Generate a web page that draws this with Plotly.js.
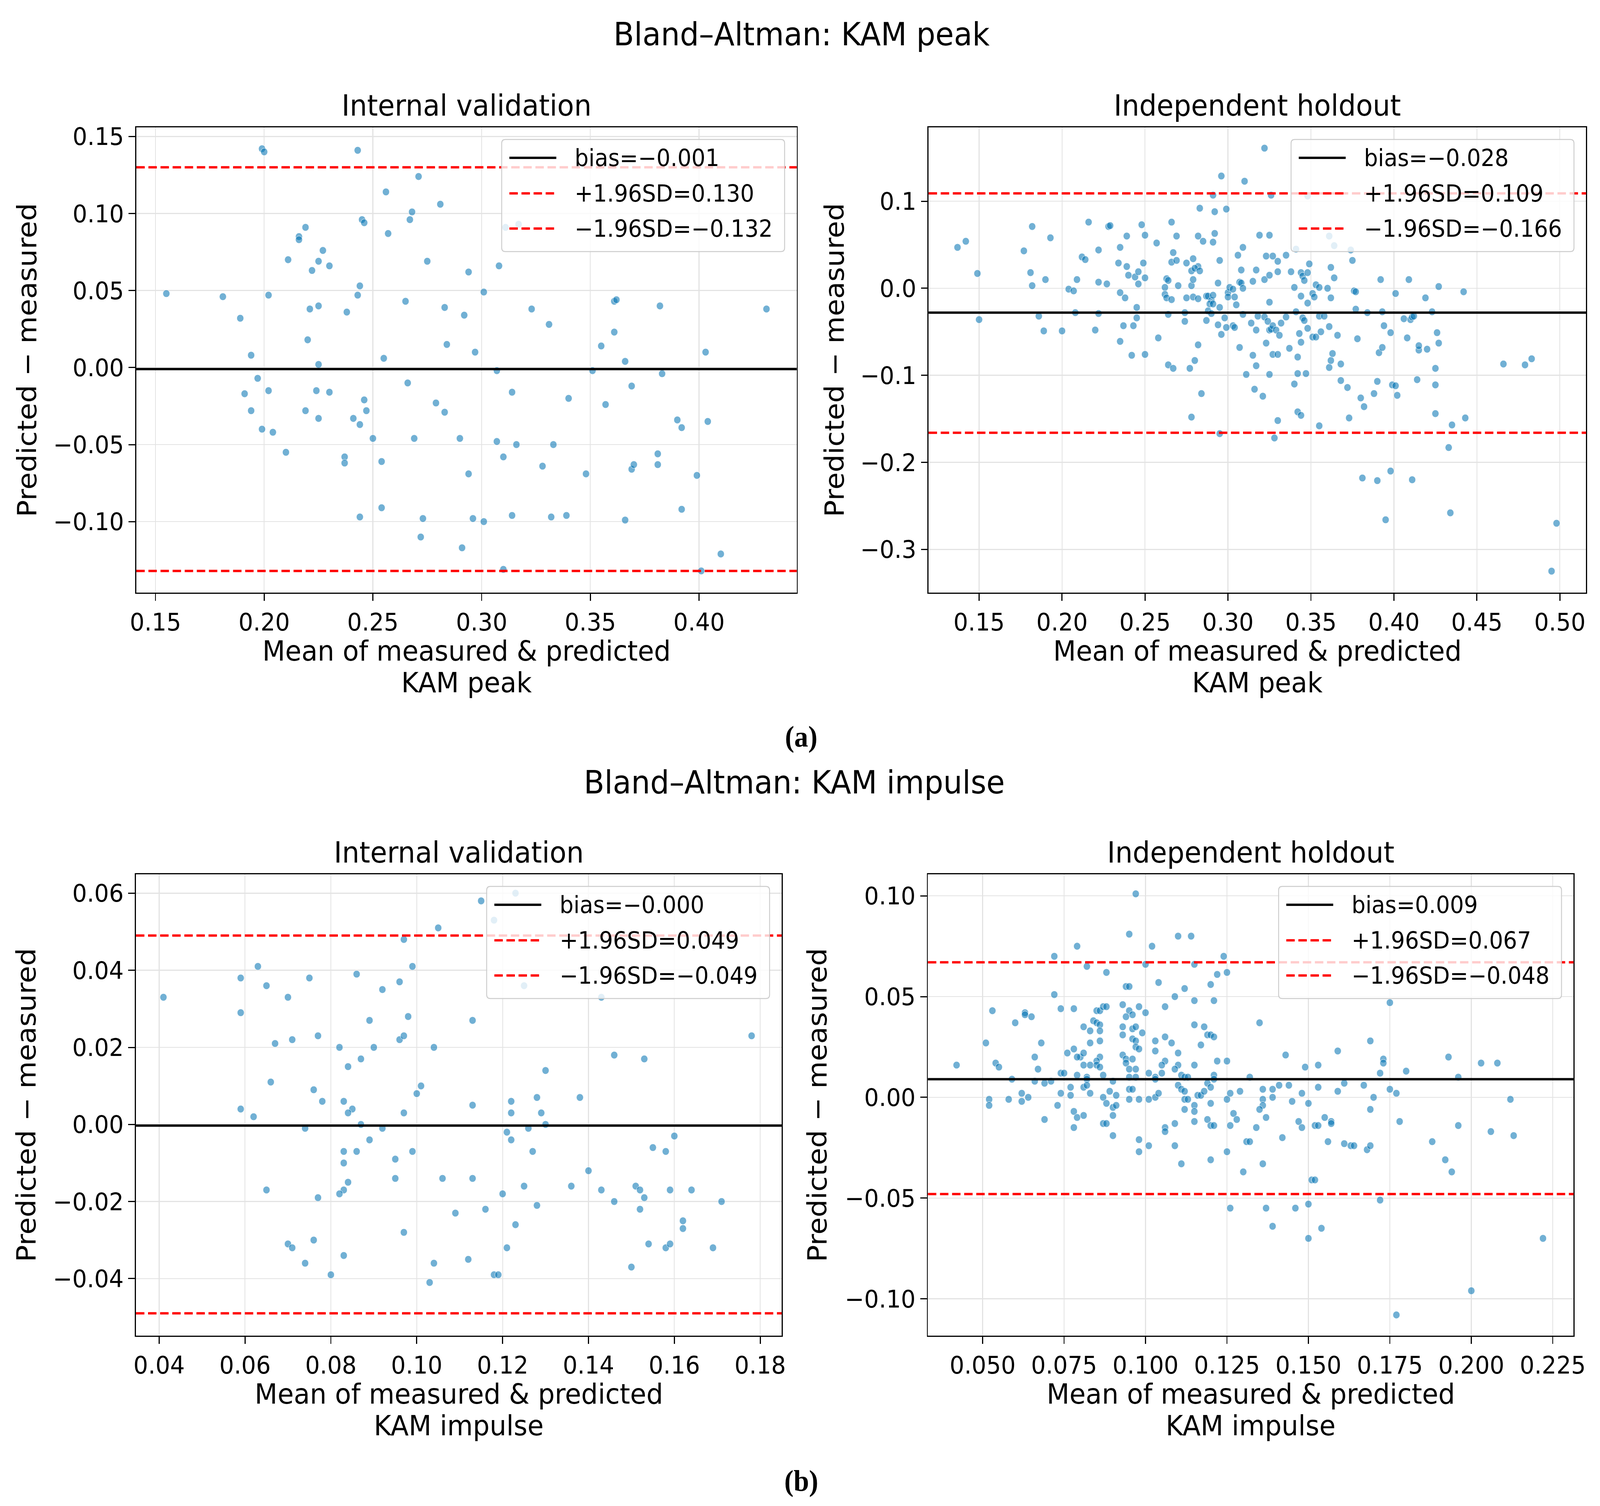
<!DOCTYPE html>
<html>
<head>
<meta charset="utf-8">
<script src="https://cdn.plot.ly/plotly-3.0.1.min.js"></script>
<style>
html, body { margin: 0; padding: 0; overflow: hidden; background: #fff; }
#wrap { width: 4366px; height: 3855px; overflow: hidden; }
#chart { width: 4366px; height: 3855px; transform-origin: 0 0; }
</style>
</head>
<body>
<div id="wrap"><div id="chart"></div></div>
<script>
// ---- values ----
// (a) KAM peak, internal validation
var peakIntMean = [0.199,0.200,0.243,0.271,0.256,0.281,0.268,0.267,0.245,0.246,
  0.219,0.216,0.216,0.257,0.311,0.317,0.227,0.211,0.225,0.230,
  0.222,0.275,0.294,0.308,0.244,0.243,0.155,0.181,0.202,0.301,
  0.265,0.361,0.362,0.382,0.431,0.221,0.225,0.283,0.238,0.292,
  0.323,0.189,0.331,0.361,0.220,0.284,0.355,0.194,0.255,0.297,
  0.403,0.366,0.225,0.307,0.351,0.383,0.197,0.266,0.191,0.202,
  0.224,0.230,0.314,0.369,0.194,0.246,0.279,0.283,0.247,0.219,
  0.340,0.357,0.225,0.241,0.244,0.199,0.204,0.250,0.269,0.290,
  0.307,0.316,0.333,0.390,0.392,0.404,0.210,0.237,0.237,0.254,
  0.310,0.328,0.348,0.369,0.370,0.381,0.381,0.399,0.294,0.254,
  0.244,0.273,0.296,0.301,0.314,0.332,0.339,0.366,0.392,0.272,
  0.291,0.310,0.401,0.410];
var peakIntDiff = [0.142,0.140,0.141,0.124,0.114,0.106,0.101,0.096,0.096,0.094,
  0.091,0.085,0.083,0.087,0.091,0.093,0.076,0.070,0.069,0.066,
  0.063,0.069,0.062,0.066,0.053,0.047,0.048,0.046,0.047,0.049,
  0.043,0.043,0.044,0.040,0.038,0.038,0.040,0.039,0.036,0.034,
  0.038,0.032,0.028,0.023,0.018,0.015,0.014,0.008,0.006,0.010,
  0.010,0.004,0.002,-0.002,-0.002,-0.004,-0.007,-0.010,-0.017,-0.015,
  -0.015,-0.016,-0.016,-0.012,-0.028,-0.021,-0.023,-0.029,-0.028,-0.028,
  -0.020,-0.024,-0.033,-0.033,-0.037,-0.040,-0.042,-0.046,-0.046,-0.046,
  -0.048,-0.050,-0.050,-0.034,-0.039,-0.035,-0.055,-0.058,-0.062,-0.061,
  -0.058,-0.064,-0.069,-0.066,-0.063,-0.056,-0.063,-0.070,-0.069,-0.091,
  -0.097,-0.098,-0.098,-0.100,-0.096,-0.097,-0.096,-0.099,-0.092,-0.110,
  -0.117,-0.131,-0.132,-0.121];

// (a) KAM peak, independent holdout  [mean, difference]
var peakHoldPts = [[0.322,0.161],[0.296,0.129],[0.310,0.123],[0.291,0.107],[0.326,0.107],[0.348,0.106],[0.283,0.092],[0.299,0.091],[0.292,0.088],[0.216,0.076],
  [0.266,0.076],[0.248,0.073],[0.182,0.071],[0.228,0.071],[0.229,0.072],[0.239,0.060],[0.269,0.060],[0.250,0.061],[0.193,0.058],[0.282,0.060],
  [0.292,0.063],[0.319,0.061],[0.325,0.061],[0.285,0.054],[0.291,0.053],[0.361,0.060],[0.142,0.054],[0.137,0.047],[0.257,0.052],[0.177,0.043],
  [0.222,0.044],[0.235,0.047],[0.267,0.041],[0.309,0.047],[0.306,0.038],[0.364,0.049],[0.374,0.044],[0.341,0.045],[0.212,0.036],[0.214,0.033],
  [0.234,0.029],[0.249,0.029],[0.266,0.030],[0.269,0.032],[0.275,0.029],[0.279,0.034],[0.282,0.025],[0.295,0.032],[0.323,0.037],[0.327,0.037],
  [0.330,0.031],[0.335,0.038],[0.349,0.028],[0.375,0.032],[0.149,0.017],[0.181,0.018],[0.182,0.003],[0.190,0.010],[0.209,0.010],[0.222,0.007],
  [0.227,0.005],[0.239,0.025],[0.240,0.015],[0.244,0.013],[0.246,0.019],[0.246,0.005],[0.250,0.012],[0.263,0.011],[0.264,0.009],[0.270,0.003],
  [0.278,0.003],[0.278,0.020],[0.279,0.010],[0.280,0.023],[0.283,0.020],[0.294,0.006],[0.308,0.021],[0.307,0.007],[0.308,0.006],[0.315,0.008],
  [0.317,0.021],[0.322,0.010],[0.325,0.015],[0.330,0.019],[0.338,0.019],[0.344,0.018],[0.345,0.014],[0.346,0.009],[0.348,0.018],[0.362,0.024],
  [0.364,0.012],[0.392,0.010],[0.409,0.010],[0.427,0.002],[0.204,-0.001],[0.207,-0.003],[0.235,-0.005],[0.238,-0.011],[0.262,0.001],[0.262,-0.007],
  [0.263,-0.011],[0.266,-0.013],[0.275,-0.011],[0.279,-0.010],[0.282,-0.012],[0.287,-0.009],[0.288,-0.009],[0.290,-0.014],[0.291,-0.008],[0.289,-0.018],
  [0.291,-0.018],[0.295,-0.022],[0.300,-0.005],[0.300,-0.010],[0.301,0.001],[0.304,-0.010],[0.303,-0.001],[0.305,-0.019],[0.309,0.000],[0.325,-0.016],
  [0.340,0.001],[0.344,-0.009],[0.348,-0.017],[0.351,-0.006],[0.353,0.004],[0.352,-0.010],[0.355,0.001],[0.360,0.000],[0.362,-0.011],[0.376,-0.003],
  [0.377,-0.004],[0.401,-0.006],[0.419,-0.011],[0.442,-0.004],[0.245,-0.022],[0.208,-0.028],[0.222,-0.029],[0.274,-0.028],[0.150,-0.036],[0.186,-0.032],
  [0.189,-0.049],[0.200,-0.049],[0.220,-0.048],[0.237,-0.043],[0.243,-0.043],[0.245,-0.034],[0.264,-0.030],[0.274,-0.038],[0.287,-0.037],[0.288,-0.026],
  [0.290,-0.029],[0.294,-0.042],[0.298,-0.034],[0.299,-0.045],[0.303,-0.043],[0.304,-0.045],[0.309,-0.030],[0.314,-0.040],[0.317,-0.048],[0.318,-0.032],
  [0.322,-0.033],[0.324,-0.038],[0.325,-0.048],[0.326,-0.047],[0.327,-0.043],[0.329,-0.048],[0.332,-0.040],[0.335,-0.033],[0.341,-0.027],[0.343,-0.052],
  [0.345,-0.034],[0.346,-0.037],[0.348,-0.046],[0.351,-0.056],[0.353,-0.056],[0.355,-0.032],[0.356,-0.050],[0.358,-0.032],[0.361,-0.044],[0.377,-0.024],
  [0.384,-0.028],[0.393,-0.027],[0.394,-0.043],[0.398,-0.051],[0.406,-0.035],[0.410,-0.036],[0.411,-0.033],[0.412,-0.032],[0.423,-0.027],[0.426,-0.051],
  [0.296,-0.053],[0.235,-0.061],[0.242,-0.077],[0.250,-0.076],[0.258,-0.057],[0.264,-0.088],[0.267,-0.092],[0.277,-0.092],[0.280,-0.083],[0.282,-0.065],
  [0.307,-0.068],[0.315,-0.077],[0.317,-0.089],[0.323,-0.063],[0.327,-0.076],[0.330,-0.076],[0.331,-0.054],[0.337,-0.069],[0.342,-0.079],[0.344,-0.062],
  [0.361,-0.091],[0.362,-0.083],[0.363,-0.075],[0.366,-0.054],[0.368,-0.087],[0.378,-0.058],[0.391,-0.074],[0.393,-0.068],[0.408,-0.057],[0.415,-0.071],
  [0.415,-0.066],[0.420,-0.070],[0.427,-0.063],[0.425,-0.092],[0.466,-0.087],[0.479,-0.088],[0.483,-0.081],[0.311,-0.099],[0.325,-0.099],[0.342,-0.098],
  [0.347,-0.098],[0.340,-0.110],[0.368,-0.106],[0.372,-0.114],[0.390,-0.107],[0.399,-0.111],[0.401,-0.112],[0.402,-0.123],[0.414,-0.105],[0.425,-0.111],
  [0.316,-0.116],[0.321,-0.124],[0.284,-0.121],[0.380,-0.126],[0.388,-0.121],[0.278,-0.148],[0.330,-0.152],[0.342,-0.142],[0.344,-0.146],[0.355,-0.158],
  [0.373,-0.149],[0.382,-0.136],[0.425,-0.144],[0.435,-0.157],[0.443,-0.149],[0.295,-0.167],[0.328,-0.172],[0.433,-0.183],[0.381,-0.218],[0.390,-0.221],
  [0.398,-0.210],[0.411,-0.220],[0.395,-0.266],[0.434,-0.258],[0.498,-0.270],[0.495,-0.325]];

// (b) KAM impulse, internal validation  [mean, difference]
var impIntPts = [[0.115,0.058],[0.123,0.060],[0.118,0.053],[0.105,0.051],[0.097,0.048],[0.063,0.041],[0.099,0.041],[0.059,0.038],[0.075,0.038],[0.086,0.039],
  [0.065,0.036],[0.096,0.037],[0.092,0.035],[0.125,0.036],[0.041,0.033],[0.070,0.033],[0.143,0.033],[0.059,0.029],[0.098,0.028],[0.089,0.027],
  [0.113,0.027],[0.077,0.023],[0.067,0.021],[0.071,0.022],[0.096,0.022],[0.097,0.023],[0.104,0.020],[0.178,0.023],[0.082,0.020],[0.090,0.020],
  [0.146,0.018],[0.153,0.017],[0.087,0.017],[0.084,0.015],[0.130,0.014],[0.066,0.011],[0.076,0.009],[0.101,0.010],[0.100,0.008],[0.078,0.006],
  [0.128,0.007],[0.138,0.007],[0.122,0.006],[0.059,0.004],[0.062,0.002],[0.083,0.006],[0.085,0.004],[0.084,0.003],[0.097,0.003],[0.113,0.005],
  [0.122,0.003],[0.129,0.003],[0.087,0.000],[0.130,0.000],[0.074,-0.001],[0.092,-0.001],[0.126,-0.001],[0.121,-0.002],[0.122,-0.004],[0.160,-0.003],
  [0.089,-0.004],[0.083,-0.007],[0.086,-0.007],[0.099,-0.007],[0.127,-0.007],[0.155,-0.006],[0.158,-0.007],[0.095,-0.009],[0.083,-0.010],[0.140,-0.012],
  [0.084,-0.015],[0.095,-0.014],[0.106,-0.014],[0.113,-0.014],[0.065,-0.017],[0.125,-0.016],[0.136,-0.016],[0.143,-0.017],[0.151,-0.016],[0.152,-0.017],
  [0.159,-0.017],[0.164,-0.017],[0.083,-0.017],[0.082,-0.018],[0.077,-0.019],[0.120,-0.018],[0.146,-0.020],[0.153,-0.019],[0.171,-0.020],[0.128,-0.021],
  [0.152,-0.022],[0.109,-0.023],[0.116,-0.022],[0.123,-0.026],[0.162,-0.025],[0.162,-0.027],[0.097,-0.028],[0.076,-0.030],[0.070,-0.031],[0.071,-0.032],
  [0.121,-0.032],[0.154,-0.031],[0.158,-0.032],[0.159,-0.031],[0.169,-0.032],[0.083,-0.034],[0.074,-0.036],[0.104,-0.036],[0.112,-0.035],[0.150,-0.037],
  [0.080,-0.039],[0.118,-0.039],[0.119,-0.039],[0.103,-0.041]];

// (b) KAM impulse, independent holdout  [mean, difference]
var impHoldPts = [[0.097,0.101],[0.095,0.081],[0.110,0.080],[0.114,0.080],[0.079,0.075],[0.102,0.075],[0.072,0.070],[0.124,0.070],[0.100,0.066],[0.115,0.066],
  [0.082,0.065],[0.088,0.062],[0.125,0.062],[0.122,0.061],[0.104,0.057],[0.094,0.055],[0.095,0.055],[0.112,0.054],[0.120,0.056],[0.072,0.051],
  [0.109,0.050],[0.115,0.048],[0.121,0.048],[0.053,0.043],[0.074,0.044],[0.078,0.044],[0.063,0.042],[0.063,0.041],[0.065,0.040],[0.060,0.037],
  [0.085,0.043],[0.086,0.043],[0.087,0.045],[0.088,0.045],[0.093,0.046],[0.095,0.043],[0.096,0.041],[0.098,0.045],[0.100,0.042],[0.106,0.045],
  [0.094,0.040],[0.084,0.038],[0.085,0.037],[0.086,0.036],[0.081,0.035],[0.083,0.033],[0.086,0.033],[0.093,0.035],[0.096,0.034],[0.097,0.035],
  [0.093,0.031],[0.099,0.032],[0.115,0.036],[0.118,0.035],[0.135,0.037],[0.119,0.031],[0.120,0.031],[0.121,0.030],[0.106,0.030],[0.051,0.027],
  [0.068,0.027],[0.096,0.029],[0.097,0.028],[0.103,0.028],[0.108,0.027],[0.086,0.028],[0.083,0.027],[0.117,0.026],[0.097,0.025],[0.098,0.024],
  [0.103,0.023],[0.110,0.022],[0.078,0.024],[0.076,0.022],[0.066,0.020],[0.080,0.020],[0.079,0.020],[0.081,0.022],[0.086,0.020],[0.085,0.018],
  [0.093,0.021],[0.094,0.019],[0.096,0.019],[0.106,0.018],[0.054,0.017],[0.055,0.015],[0.067,0.014],[0.081,0.016],[0.083,0.016],[0.085,0.016],
  [0.086,0.015],[0.094,0.017],[0.095,0.014],[0.097,0.014],[0.105,0.016],[0.110,0.016],[0.115,0.016],[0.122,0.018],[0.125,0.018],[0.143,0.021],
  [0.159,0.023],[0.169,0.028],[0.173,0.019],[0.173,0.017],[0.175,0.047],[0.149,0.015],[0.153,0.016],[0.180,0.013],[0.172,0.012],[0.193,0.020],
  [0.203,0.017],[0.208,0.017],[0.196,0.010],[0.042,0.016],[0.059,0.009],[0.066,0.008],[0.071,0.008],[0.069,0.007],[0.074,0.012],[0.075,0.012],
  [0.079,0.011],[0.082,0.010],[0.082,0.009],[0.087,0.011],[0.090,0.008],[0.095,0.010],[0.097,0.010],[0.101,0.012],[0.103,0.010],[0.103,0.009],
  [0.105,0.012],[0.109,0.014],[0.111,0.011],[0.112,0.010],[0.113,0.010],[0.119,0.007],[0.121,0.011],[0.121,0.009],[0.132,0.010],[0.077,0.005],
  [0.081,0.005],[0.082,0.006],[0.095,0.004],[0.096,0.004],[0.110,0.006],[0.111,0.004],[0.112,0.003],[0.120,0.005],[0.136,0.004],[0.139,0.004],
  [0.141,0.006],[0.144,0.006],[0.148,0.002],[0.153,0.005],[0.159,0.003],[0.161,0.007],[0.167,0.006],[0.175,0.004],[0.177,0.002],[0.052,-0.001],
  [0.052,-0.004],[0.058,-0.001],[0.062,-0.002],[0.062,0.002],[0.064,0.000],[0.074,0.002],[0.077,0.001],[0.073,-0.004],[0.083,0.002],[0.089,0.003],
  [0.087,0.000],[0.091,0.001],[0.088,-0.003],[0.090,-0.005],[0.091,-0.004],[0.095,-0.001],[0.098,-0.001],[0.101,-0.001],[0.103,0.000],[0.104,0.002],
  [0.112,-0.001],[0.113,-0.001],[0.115,-0.004],[0.116,0.001],[0.117,0.001],[0.118,0.003],[0.120,-0.003],[0.125,-0.001],[0.126,0.002],[0.129,0.003],
  [0.136,-0.001],[0.136,-0.004],[0.139,0.000],[0.145,-0.002],[0.150,-0.003],[0.135,-0.006],[0.170,0.000],[0.212,-0.001],[0.069,-0.011],[0.078,-0.007],
  [0.079,-0.010],[0.081,-0.009],[0.078,-0.015],[0.087,-0.013],[0.088,-0.013],[0.090,-0.009],[0.090,-0.019],[0.112,-0.006],[0.115,-0.007],[0.115,-0.012],
  [0.106,-0.015],[0.106,-0.017],[0.109,-0.013],[0.119,-0.011],[0.120,-0.014],[0.121,-0.014],[0.127,-0.008],[0.128,-0.011],[0.126,-0.014],[0.137,-0.010],
  [0.134,-0.015],[0.147,-0.012],[0.148,-0.015],[0.152,-0.014],[0.153,-0.014],[0.155,-0.010],[0.157,-0.012],[0.157,-0.013],[0.169,-0.006],[0.178,-0.012],
  [0.196,-0.014],[0.206,-0.017],[0.213,-0.019],[0.098,-0.021],[0.101,-0.024],[0.098,-0.027],[0.109,-0.024],[0.131,-0.022],[0.132,-0.022],[0.142,-0.020],
  [0.156,-0.022],[0.161,-0.023],[0.163,-0.024],[0.164,-0.024],[0.168,-0.026],[0.169,-0.024],[0.188,-0.022],[0.111,-0.033],[0.120,-0.031],[0.125,-0.027],
  [0.130,-0.037],[0.136,-0.033],[0.151,-0.041],[0.152,-0.041],[0.192,-0.031],[0.194,-0.037],[0.126,-0.055],[0.137,-0.055],[0.146,-0.055],[0.150,-0.053],
  [0.172,-0.051],[0.139,-0.064],[0.154,-0.065],[0.150,-0.070],[0.222,-0.070],[0.200,-0.096],[0.177,-0.108]];

// bias and limits of agreement, per panel (a-int, a-hold, b-int, b-hold)
var biasVals  = [-0.001, -0.028, -0.0003, 0.009];
var upperVals = [0.130, 0.109, 0.049, 0.067];
var lowerVals = [-0.132, -0.166, -0.049, -0.048];

var supTitles = ['Bland–Altman: KAM peak', 'Bland–Altman: KAM impulse'];
var panelTitles = ['Internal validation', 'Independent holdout', 'Internal validation', 'Independent holdout'];
var xTitleTop = 'Mean of measured &amp; predicted';
var xTitleBottom = ['KAM peak', 'KAM peak', 'KAM impulse', 'KAM impulse'];
var yTitle = 'Predicted − measured';
var captions = ['(a)', '(b)'];

// ---- layout helpers (pixel positions in the 4366 x 3855 page) ----
var W = 4366, H = 3855;
function px(v) { return v / W; }
function py(v) { return 1 - v / H; }

var FONT = 'DejaVu Sans';
var POINT = 'rgba(1,115,178,0.56)';

// plot boxes [left, top, right, bottom] in px, ranges, ticks
var panels = [
  { pts: peakIntMean.map(function (m, i) { return [m, peakIntDiff[i]]; }),
    box: [372, 326, 2174, 1517], xr: [0.1412, 0.4449], yr: [-0.1461, 0.1559],
    xt: [0.15, 0.05, '.2f'], yt: [0, 0.05, '.2f'], ytitleX: 74 },
  { pts: peakHoldPts,
    box: [2534, 326, 4328, 1517], xr: [0.1196, 0.5158], yr: [-0.3497, 0.1849],
    xt: [0.15, 0.05, '.2f'], yt: [0, 0.1, '.1f'], ytitleX: 2277 },
  { pts: impIntPts,
    box: [371, 2238, 2133, 3419], xr: [0.0346, 0.1850], yr: [-0.0548, 0.0649],
    xt: [0.04, 0.02, '.2f'], yt: [0, 0.02, '.2f'], ytitleX: 71 },
  { pts: impHoldPts,
    box: [2532, 2238, 4294, 3419], xr: [0.0332, 0.2314], yr: [-0.1183, 0.1107],
    xt: [0.05, 0.025, '.3f'], yt: [0, 0.05, '.2f'], ytitleX: 2230 }
];

function fmt3(v) { return v.toFixed(3).replace('-', '−'); }

function roundRect(x0, y0, x1, y1, r) {
  var X = function (v) { return px(v).toFixed(6); };
  var Y = function (v) { return py(v).toFixed(6); };
  return 'M' + X(x0 + r) + ',' + Y(y0) +
    ' L' + X(x1 - r) + ',' + Y(y0) + ' Q' + X(x1) + ',' + Y(y0) + ' ' + X(x1) + ',' + Y(y0 + r) +
    ' L' + X(x1) + ',' + Y(y1 - r) + ' Q' + X(x1) + ',' + Y(y1) + ' ' + X(x1 - r) + ',' + Y(y1) +
    ' L' + X(x0 + r) + ',' + Y(y1) + ' Q' + X(x0) + ',' + Y(y1) + ' ' + X(x0) + ',' + Y(y1 - r) +
    ' L' + X(x0) + ',' + Y(y0 + r) + ' Q' + X(x0) + ',' + Y(y0) + ' ' + X(x0 + r) + ',' + Y(y0) + ' Z';
}

var traces = [];
var shapes = [];
var legendShapes = [];
var annotations = [];
var layout = {
  width: W, height: H,
  margin: { l: 0, r: 0, t: 0, b: 0 },
  paper_bgcolor: '#fff', plot_bgcolor: '#fff',
  showlegend: false,
  font: { family: FONT, size: 63, color: '#000' }
};

panels.forEach(function (p, i) {
  var n = i === 0 ? '' : String(i + 1);
  var xa = 'x' + n, ya = 'y' + n;
  var L = p.box[0], T = p.box[1], R = p.box[2], B = p.box[3];

  traces.push({
    type: 'scatter', mode: 'markers', xaxis: xa, yaxis: ya,
    x: p.pts.map(function (d) { return d[0]; }),
    y: p.pts.map(function (d) { return d[1]; }),
    marker: { size: 19, color: POINT, line: { color: '#fff', width: 1 } },
    hoverinfo: 'skip'
  });

  var common = {
    showline: true, linecolor: '#000', linewidth: 3, mirror: true,
    ticks: 'outside', ticklen: 18, tickwidth: 3, tickcolor: '#000',
    showgrid: true, gridcolor: '#e3e3e3', gridwidth: 2.5,
    zeroline: false, tickfont: { family: FONT, size: 63, color: '#000' }
  };
  layout['xaxis' + n] = Object.assign({}, common, {
    domain: [px(L), px(R)], range: p.xr, anchor: ya,
    tick0: p.xt[0], dtick: p.xt[1], tickformat: p.xt[2]
  });
  layout['yaxis' + n] = Object.assign({}, common, {
    domain: [py(B), py(T)], range: p.yr, anchor: xa,
    tick0: p.yt[0], dtick: p.yt[1], tickformat: p.yt[2]
  });

  // bias and limits of agreement
  var lw = 6;
  shapes.push({ type: 'line', layer: 'above', xref: xa + ' domain', yref: ya, x0: 0, x1: 1,
    y0: biasVals[i], y1: biasVals[i], line: { color: '#000', width: lw } });
  shapes.push({ type: 'line', layer: 'above', xref: xa + ' domain', yref: ya, x0: 0, x1: 1,
    y0: upperVals[i], y1: upperVals[i], line: { color: '#ff0000', width: lw, dash: '23px,10px' } });
  shapes.push({ type: 'line', layer: 'above', xref: xa + ' domain', yref: ya, x0: 0, x1: 1,
    y0: lowerVals[i], y1: lowerVals[i], line: { color: '#ff0000', width: lw, dash: '23px,10px' } });

  // legend box
  var lx1 = R - 33, lx0 = lx1 - 772, ly0 = T + 31, ly1 = ly0 + 287;
  legendShapes.push({ type: 'path', layer: 'above', xref: 'paper', yref: 'paper',
    path: roundRect(lx0, ly0, lx1, ly1, 10),
    fillcolor: 'rgba(255,255,255,0.8)', line: { color: '#cccccc', width: 2.5 } });
  var rows = [
    ['bias=' + fmt3(biasVals[i]), '#000', 'solid'],
    ['+1.96SD=' + fmt3(upperVals[i]), '#ff0000', '23px,10px'],
    ['−1.96SD=' + fmt3(lowerVals[i]), '#ff0000', '23px,10px']
  ];
  var rowY = [47, 138, 228];
  rows.forEach(function (r, k) {
    var yy = py(ly0 + rowY[k]);
    legendShapes.push({ type: 'line', layer: 'above', xref: 'paper', yref: 'paper',
      x0: px(lx0 + 21), x1: px(lx0 + 149), y0: yy, y1: yy,
      line: { color: r[1], width: lw, dash: r[2] } });
    annotations.push({ xref: 'paper', yref: 'paper', x: px(lx0 + 197), y: yy,
      xanchor: 'left', yanchor: 'middle', showarrow: false, text: r[0],
      font: { family: FONT, size: 60, color: '#000' } });
  });

  // panel title, axis titles
  var cx = px((L + R) / 2);
  annotations.push({ xref: 'paper', yref: 'paper', x: cx, y: py(T - 56),
    xanchor: 'center', yanchor: 'middle', showarrow: false, text: panelTitles[i],
    font: { family: FONT, size: 75, color: '#000' } });
  annotations.push({ xref: 'paper', yref: 'paper', x: cx, y: py(B + 149),
    xanchor: 'center', yanchor: 'middle', showarrow: false, text: xTitleTop,
    font: { family: FONT, size: 72, color: '#000' } });
  annotations.push({ xref: 'paper', yref: 'paper', x: cx, y: py(B + 230),
    xanchor: 'center', yanchor: 'middle', showarrow: false, text: xTitleBottom[i],
    font: { family: FONT, size: 72, color: '#000' } });
  annotations.push({ xref: 'paper', yref: 'paper', x: px(p.ytitleX), y: py((T + B) / 2),
    xanchor: 'center', yanchor: 'middle', showarrow: false, text: yTitle, textangle: -90,
    font: { family: FONT, size: 72, color: '#000' } });
});

// figure titles and captions
annotations.push({ xref: 'paper', yref: 'paper', x: px(2187), y: py(87),
  xanchor: 'center', yanchor: 'middle', showarrow: false, text: supTitles[0],
  font: { family: FONT, size: 82, color: '#000' } });
annotations.push({ xref: 'paper', yref: 'paper', x: px(2167), y: py(2002),
  xanchor: 'center', yanchor: 'middle', showarrow: false, text: supTitles[1],
  font: { family: FONT, size: 82, color: '#000' } });
annotations.push({ xref: 'paper', yref: 'paper', x: px(2186), y: py(1885),
  xanchor: 'center', yanchor: 'middle', showarrow: false, text: '<b>' + captions[0] + '</b>',
  font: { family: 'Liberation Serif', size: 76, color: '#000' } });
annotations.push({ xref: 'paper', yref: 'paper', x: px(2186), y: py(3790),
  xanchor: 'center', yanchor: 'middle', showarrow: false, text: '<b>' + captions[1] + '</b>',
  font: { family: 'Liberation Serif', size: 76, color: '#000' } });

layout.shapes = shapes.concat(legendShapes);
layout.annotations = annotations;

// the browser may give a smaller viewport than asked for (e.g. 4096 wide):
// stretch the drawing onto the whole viewport so it lines up with the page
var vw = document.documentElement.clientWidth || W;
var vh = window.innerHeight || H;
var sx = Math.min(vw / W, 1), sy = Math.min(vh / H, 1);
if (sx < 1 || sy < 1) {
  document.getElementById('chart').style.transform = 'scale(' + sx + ',' + sy + ')';
  document.getElementById('wrap').style.width = (W * sx) + 'px';
  document.getElementById('wrap').style.height = (H * sy) + 'px';
}

Plotly.newPlot('chart', traces, layout, { displayModeBar: false, staticPlot: true });
</script>
</body>
</html>
